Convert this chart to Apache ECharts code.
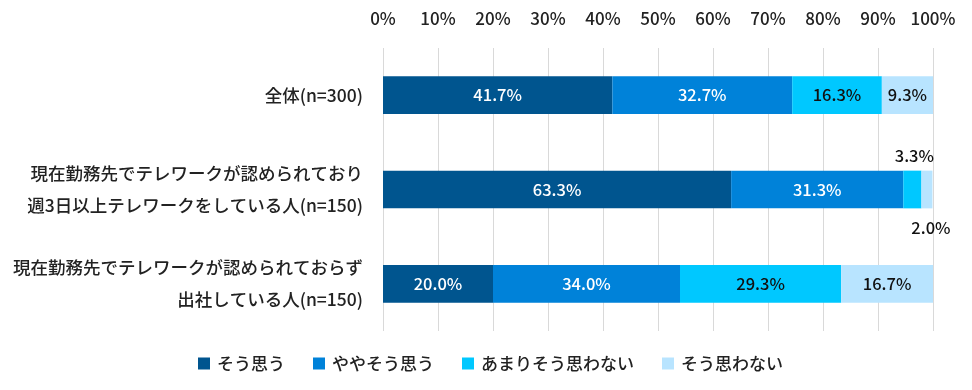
<!DOCTYPE html>
<html><head><meta charset="utf-8">
<script src="https://cdn.jsdelivr.net/npm/echarts@6/dist/echarts.min.js"></script>
<style>html,body{margin:0;padding:0;background:#fff}#c{width:972px;height:390px}</style>
</head><body><div id="c"></div>
<script>
const categories = ['全体(n=300)', '現在勤務先でテレワークが認められており\n週3日以上テレワークをしている人(n=150)', '現在勤務先でテレワークが認められておらず\n出社している人(n=150)'];
const seriesNames = ['そう思う', 'ややそう思う', 'あまりそう思わない', 'そう思わない'];
const s1 = [41.7, 63.3, 20.0];
const s2 = [32.7, 31.3, 34.0];
const s3 = [16.3, 3.3, 29.3];
const s4 = [9.3, 2.0, 16.7];
const tickValues = [0, 10, 20, 30, 40, 50, 60, 70, 80, 90, 100];

const colors = ['#00558f', '#0082d9', '#00c8ff', '#b8e4ff'];
const labelColors = ['#fff', '#fff', '#111', '#111'];
const font = '"Noto Sans CJK JP", "Noto Sans", sans-serif';
const fw = 500;
const allData = [s1, s2, s3, s4];

const series = allData.map((arr, i) => ({
  name: seriesNames[i],
  type: 'bar',
  stack: 'total',
  barWidth: '40%',
  itemStyle: { color: colors[i] },
  label: {
    show: true, position: 'inside', color: labelColors[i],
    fontFamily: font, fontSize: 16.5, fontWeight: fw,
    formatter: p => p.value.toFixed(1) + '%'
  },
  data: arr.map((v, j) => {
    const d = { value: v };
    if (j === 1 && i === 2) d.label = { position: 'top', offset: [2, -2], color: '#111' };
    if (j === 1 && i === 3) d.label = { position: 'bottom', offset: [4, 6], color: '#111' };
    return d;
  })
}));

const chart = echarts.init(document.getElementById('c'));
chart.setOption({
  animation: false,
  textStyle: { fontFamily: font },
  grid: { left: 383, right: 39, top: 48, bottom: 59 },
  xAxis: {
    type: 'value', position: 'top', min: 0, max: 100, interval: 10,
    axisLine: { show: false }, axisTick: { show: false },
    axisLabel: { color: '#222', fontSize: 17, fontWeight: fw, fontFamily: font, margin: 21, formatter: v => v + '%' },
    splitLine: { show: true, lineStyle: { color: '#d9d9d9', width: 1 } }
  },
  yAxis: {
    type: 'category', data: categories, inverse: true,
    axisLine: { show: false }, axisTick: { show: false },
    axisLabel: { color: '#222', fontSize: 17.5, fontWeight: fw, fontFamily: font, margin: 20, lineHeight: 32, align: 'right' }
  },
  legend: {
    bottom: 13, left: 193, itemWidth: 12, itemHeight: 12, itemGap: 28, icon: 'rect',
    textStyle: { color: '#222', fontSize: 17, fontWeight: fw, fontFamily: font, padding: [0, 0, 0, 2] },
    data: seriesNames
  },
  series
});
</script></body></html>
